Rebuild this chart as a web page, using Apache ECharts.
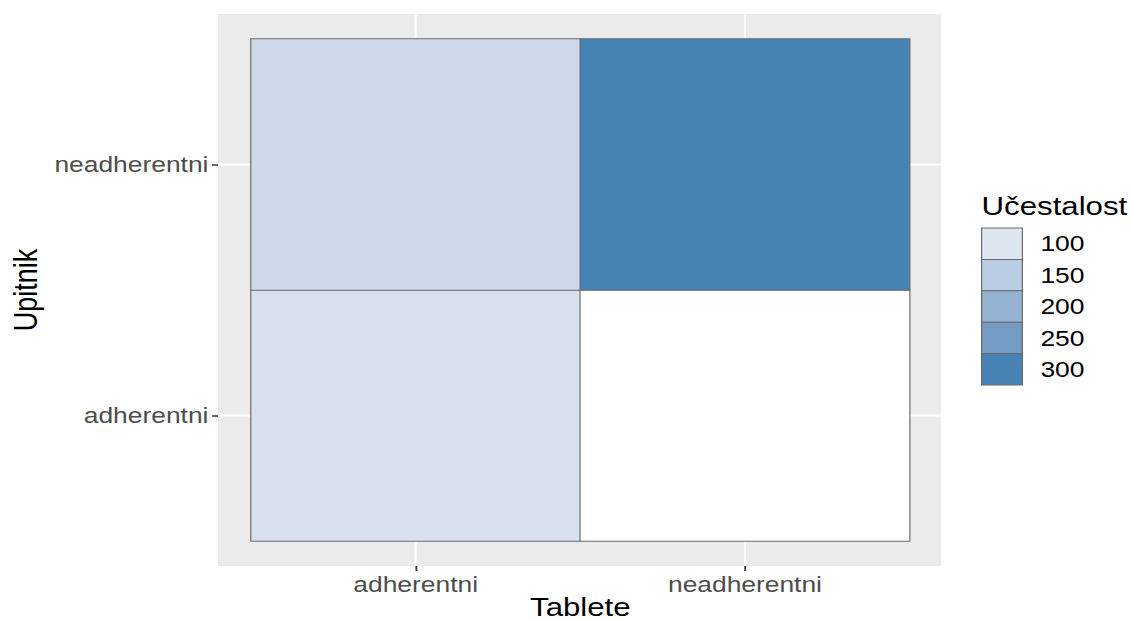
<!DOCTYPE html>
<html>
<head>
<meta charset="utf-8">
<script src="https://cdn.jsdelivr.net/npm/echarts@6/dist/echarts.min.js"></script>
<style>
html,body{margin:0;padding:0;background:#fff;overflow:hidden;}
#wrap{width:1131px;height:621px;overflow:hidden;}
#chart{width:942.5px;height:621px;transform:scaleX(1.2);transform-origin:0 0;}
</style>
</head>
<body>
<div id="wrap"><div id="chart"></div></div>
<script>
// ---- data ----
const xCategories = ['adherentni', 'neadherentni'];   // Tablete
const yCategories = ['adherentni', 'neadherentni'];   // Upitnik
const countsWhenUpitnikAdherentni   = [111, 53];      // by Tablete category
const countsWhenUpitnikNeadherentni = [123, 303];     // by Tablete category
const legendBreaks = [100, 150, 200, 250, 300];
const xTitle = 'Tablete';
const yTitle = 'Upitnik';
const legendTitle = 'Učestalost';

// ---- colour scale (Lab interpolation white -> steelblue, like ggplot) ----
function toLin(c){c/=255;return c<=0.04045?c/12.92:Math.pow((c+0.055)/1.055,2.4);}
function toGam(c){c=c<=0.0031308?12.92*c:1.055*Math.pow(c,1/2.4)-0.055;return Math.max(0,Math.min(255,Math.round(c*255)));}
function rgb2lab(r,g,b){
  r=toLin(r);g=toLin(g);b=toLin(b);
  let X=(0.4124*r+0.3576*g+0.1805*b)/0.95047,Y=(0.2126*r+0.7152*g+0.0722*b),Z=(0.0193*r+0.1192*g+0.9505*b)/1.08883;
  const f=t=>t>0.008856?Math.cbrt(t):(7.787*t+16/116);
  const fx=f(X),fy=f(Y),fz=f(Z);
  return [116*fy-16,500*(fx-fy),200*(fy-fz)];
}
function lab2hex(L,a,b){
  const fy=(L+16)/116,fx=fy+a/500,fz=fy-b/200;
  const inv=t=>t*t*t>0.008856?t*t*t:(t-16/116)/7.787;
  const X=0.95047*inv(fx),Y=inv(fy),Z=1.08883*inv(fz);
  const r=3.2406*X-1.5372*Y-0.4986*Z,g=-0.9689*X+1.8758*Y+0.0415*Z,bl=0.0557*X-0.2040*Y+1.0570*Z;
  return '#'+[toGam(r),toGam(g),toGam(bl)].map(v=>v.toString(16).padStart(2,'0')).join('');
}
const LOW=rgb2lab(255,255,255), HIGH=rgb2lab(70,130,180);
function colorAtT(t){return lab2hex(LOW[0]+(HIGH[0]-LOW[0])*t,LOW[1]+(HIGH[1]-LOW[1])*t,LOW[2]+(HIGH[2]-LOW[2])*t);}

const heatData = [];
xCategories.forEach((x,i)=>{
  heatData.push([i,0,countsWhenUpitnikAdherentni[i]]);
  heatData.push([i,1,countsWhenUpitnikNeadherentni[i]]);
});
const allVals = heatData.map(d=>d[2]);
const vMin = Math.min(...allVals), vMax = Math.max(...allVals);
const stops = []; for(let k=0;k<=20;k++) stops.push(colorAtT(k/20));
function colorAt(v){return colorAtT(Math.max(0,Math.min(1,(v-vMin)/(vMax-vMin))));}

// ---- layout (unstretched coordinates) ----
const W = 942.5, H = 621;
const PANEL = {x:181.7, y:14, w:602.5, h:552};
const GRID = {left:209.2, top:39, right:W-757.5, bottom:H-541};
const FONT = 'Liberation Sans, Arial, sans-serif';

const chart = echarts.init(document.getElementById('chart'), null, {renderer:'svg'});

const legendGraphics = [];
legendGraphics.push({type:'text', left:818, top:193, z:5,
  style:{text:legendTitle, font:'26px '+FONT, fill:'#000'}});
const keyTop = 228, keyH = 31.4;
legendBreaks.forEach((b,i)=>{
  legendGraphics.push({type:'rect', z:5, shape:{x:818, y:keyTop+i*keyH, width:34, height:keyH},
    style:{fill:colorAt(b), stroke:'#6a6a6a', lineWidth:1}});
  legendGraphics.push({type:'text', z:5, x:867, y:keyTop+i*keyH+keyH/2,
    style:{text:String(b), font:'22px '+FONT, fill:'#000', verticalAlign:'middle', align:'left'}});
});

chart.setOption({
  animation:false,
  backgroundColor:'#fff',
  grid:{left:GRID.left, top:GRID.top, right:GRID.right, bottom:GRID.bottom,
    containLabel:false, outerBoundsMode:'none'},
  xAxis:{type:'category', data:xCategories, offset:25,
    axisLine:{show:false},
    axisTick:{show:true, alignWithLabel:true, length:5, lineStyle:{color:'#333', width:1.5}},
    axisLabel:{color:'#4D4D4D', fontSize:22, fontFamily:FONT, margin:7},
    splitLine:{show:false},
    name:xTitle, nameLocation:'middle', nameGap:27, nameMoveOverlap:false,
    nameTextStyle:{color:'#000', fontSize:26, fontFamily:FONT, lineHeight:28}},
  yAxis:{type:'category', data:yCategories, offset:27.5,
    axisLine:{show:false},
    axisTick:{show:true, alignWithLabel:true, length:5, lineStyle:{color:'#333', width:1.5}},
    axisLabel:{color:'#4D4D4D', fontSize:22, fontFamily:FONT, margin:8},
    splitLine:{show:false},
    name:yTitle, nameLocation:'middle', nameGap:147, nameMoveOverlap:false,
    nameTextStyle:{color:'#000', fontSize:27, fontFamily:FONT}},
  visualMap:{type:'continuous', show:false, min:vMin, max:vMax, dimension:2,
    inRange:{color:stops}},
  series:[{type:'heatmap', data:heatData, z:3,
    itemStyle:{borderColor:'#6e6e6e', borderWidth:1},
    emphasis:{disabled:true}, label:{show:false}}]
});

// panel background + gridlines at category centres
const gfx = [{type:'rect', z:-10, silent:true,
  shape:{x:PANEL.x, y:PANEL.y, width:PANEL.w, height:PANEL.h}, style:{fill:'#EBEBEB'}}];
xCategories.forEach(c=>{
  const px = chart.convertToPixel({xAxisIndex:0}, c);
  gfx.push({type:'line', z:-9, silent:true, shape:{x1:px,y1:PANEL.y,x2:px,y2:PANEL.y+PANEL.h},
    style:{stroke:'#fff', lineWidth:1.7}});
});
yCategories.forEach(c=>{
  const py = chart.convertToPixel({yAxisIndex:0}, c);
  gfx.push({type:'line', z:-9, silent:true, shape:{x1:PANEL.x,y1:py,x2:PANEL.x+PANEL.w,y2:py},
    style:{stroke:'#fff', lineWidth:2}});
});
chart.setOption({graphic:gfx.concat(legendGraphics)});
</script>
</body>
</html>
